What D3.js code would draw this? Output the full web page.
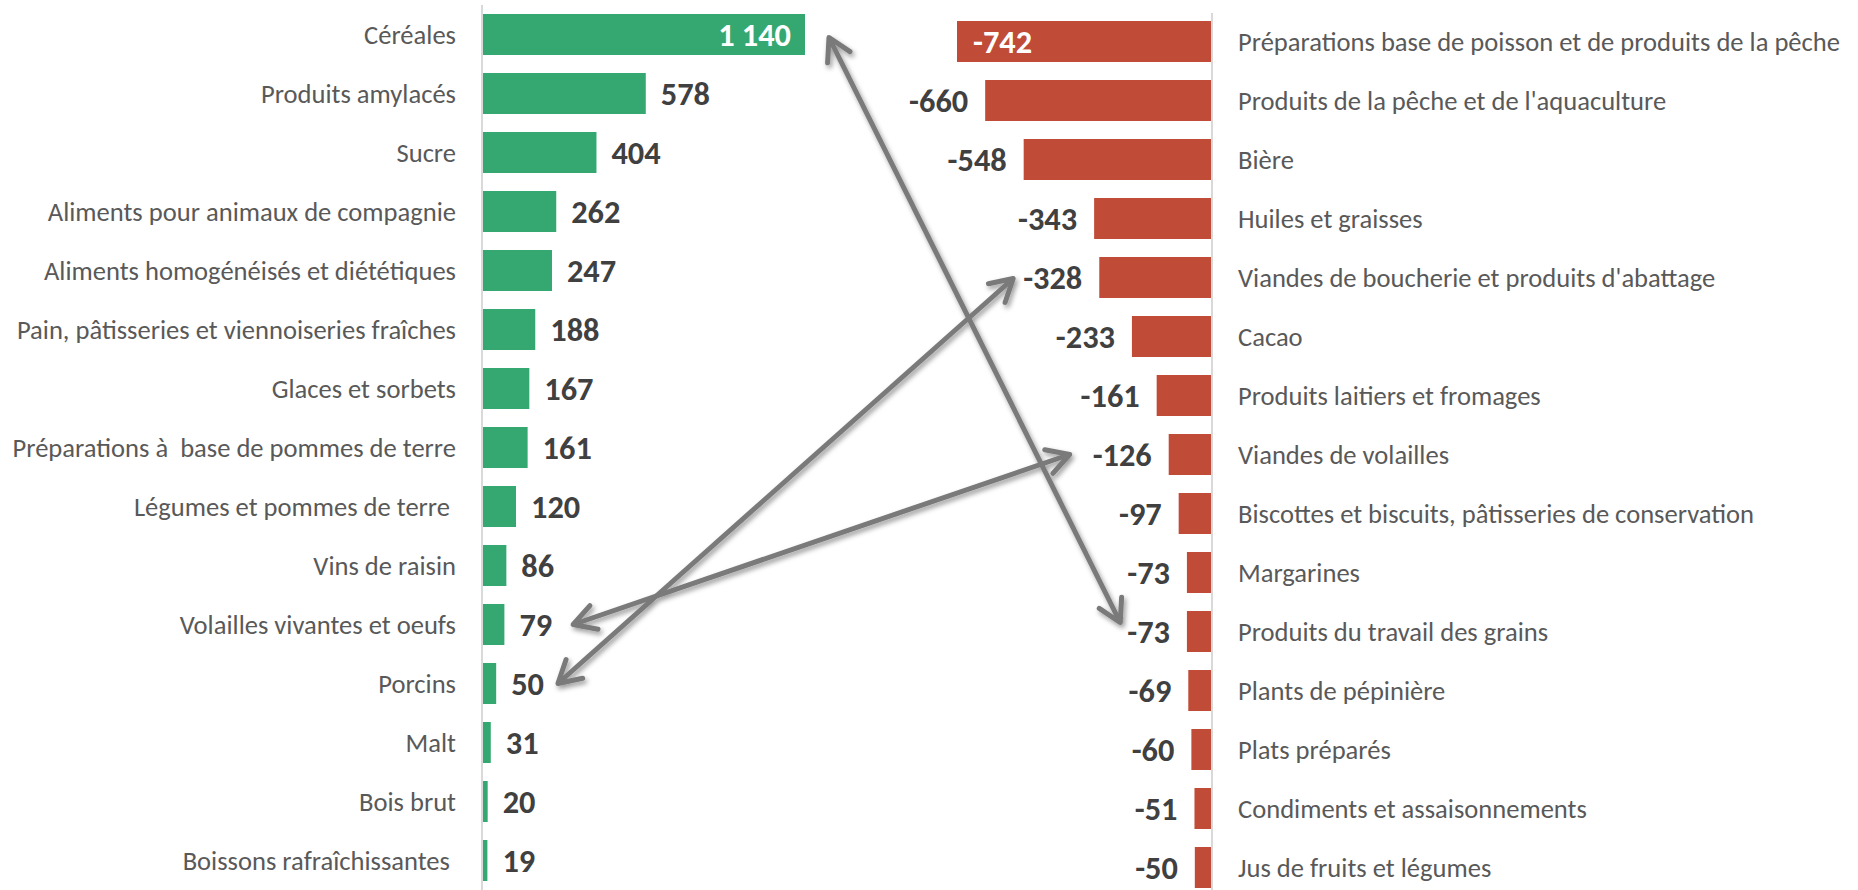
<!DOCTYPE html>
<html>
<head>
<meta charset="utf-8">
<script src="https://cdn.jsdelivr.net/npm/d3@7"></script>
<style>
    body { margin: 0; background: #ffffff; }
    text { white-space: pre; }
</style>
</head>
<body>
<div id="chart"></div>
<script>
// Excédents (gauche) et déficits (droite)
const leftCats = [
    "Céréales", "Produits amylacés", "Sucre", "Aliments pour animaux de compagnie",
    "Aliments homogénéisés et diététiques", "Pain, pâtisseries et viennoiseries fraîches",
    "Glaces et sorbets", "Préparations à  base de pommes de terre", "Légumes et pommes de terre ",
    "Vins de raisin", "Volailles vivantes et oeufs", "Porcins", "Malt", "Bois brut",
    "Boissons rafraîchissantes "
];
const leftVals = [1140, 578, 404, 262, 247, 188, 167, 161, 120, 86, 79, 50, 31, 20, 19];

const rightCats = [
    "Préparations base de poisson et de produits de la pêche",
    "Produits de la pêche et de l'aquaculture", "Bière", "Huiles et graisses",
    "Viandes de boucherie et produits d'abattage", "Cacao", "Produits laitiers et fromages",
    "Viandes de volailles", "Biscottes et biscuits, pâtisseries de conservation", "Margarines",
    "Produits du travail des grains", "Plants de pépinière", "Plats préparés",
    "Condiments et assaisonnements", "Jus de fruits et légumes"
];
const rightVals = [-742, -660, -548, -343, -328, -233, -161, -126, -97, -73, -73, -69, -60, -51, -50];

// Flèches reliant un excédent à un déficit
const arrows = [
    { left: "Céréales", right: "Produits du travail des grains", padL: 24, dyL: 3, padR: 7, dyR: -9 },
    { left: "Porcins", right: "Viandes de boucherie et produits d'abattage", padL: 14, dyL: 0, padR: 10, dyR: 1 },
    { left: "Volailles vivantes et oeufs", right: "Viandes de volailles", padL: 21, dyL: 0, padR: 23, dyR: 0 }
];

const width = 1858, height = 890;
const green = "#34a870", red = "#c04b37";
const arrowColor = "#7a7a7a";
const fontFamily = "Carlito, Calibri, Lato, sans-serif";
let catSize = 26.7, valSize = 32.5;

const svg = d3.select("#chart").append("svg")
    .attr("width", width)
    .attr("height", height)
    .style("font-family", fontFamily);

// Ajuste la taille de police pour retrouver la largeur des libellés d'origine
const probe = svg.append("text").attr("font-size", catSize).text("Aliments homogénéisés et diététiques");
const fit = 412 / probe.node().getComputedTextLength();
probe.remove();
catSize *= fit;
valSize *= fit;

const step = 59, pad = 18 / 59;
const yLeft = d3.scaleBand().domain(leftCats)
    .range([-4, -4 + step * (leftCats.length + pad)])
    .paddingInner(pad).paddingOuter(pad);
const yRight = d3.scaleBand().domain(rightCats)
    .range([3, 3 + step * (rightCats.length + pad)])
    .paddingInner(pad).paddingOuter(pad);

const xLeft = d3.scaleLinear().domain([0, d3.max(leftVals)]).range([482, 805]);
const xRight = d3.scaleLinear().domain([d3.min(rightVals), 0]).range([957, 1212]);

const left = leftCats.map((c, i) => ({ cat: c, val: leftVals[i] }));
const right = rightCats.map((c, i) => ({ cat: c, val: rightVals[i] }));

// Axes verticaux
svg.append("line")
    .attr("x1", xLeft(0)).attr("x2", xLeft(0))
    .attr("y1", 5).attr("y2", height)
    .attr("stroke", "#d9d9d9").attr("stroke-width", 2);
svg.append("line")
    .attr("x1", xRight(0)).attr("x2", xRight(0))
    .attr("y1", 13).attr("y2", height)
    .attr("stroke", "#d9d9d9").attr("stroke-width", 2);

// Barres gauche
svg.append("g").selectAll("rect").data(left).join("rect")
    .attr("x", xLeft(0) + 1)
    .attr("y", d => yLeft(d.cat))
    .attr("width", d => xLeft(d.val) - xLeft(0) - 1)
    .attr("height", yLeft.bandwidth())
    .attr("fill", green);

// Barres droite
svg.append("g").selectAll("rect").data(right).join("rect")
    .attr("x", d => xRight(d.val))
    .attr("y", d => yRight(d.cat))
    .attr("width", d => xRight(0) - xRight(d.val) - 1)
    .attr("height", yRight.bandwidth())
    .attr("fill", red);

// Libellés catégories
svg.append("g").selectAll("text").data(left).join("text")
    .attr("x", xLeft(0) - 26)
    .attr("y", d => yLeft(d.cat) + yLeft.bandwidth() / 2)
    .attr("dy", "0.35em")
    .attr("text-anchor", "end")
    .attr("font-size", catSize)
    .attr("fill", "#595959")
    .text(d => d.cat);

svg.append("g").selectAll("text").data(right).join("text")
    .attr("x", xRight(0) + 26)
    .attr("y", d => yRight(d.cat) + yRight.bandwidth() / 2)
    .attr("dy", "0.35em")
    .attr("font-size", catSize)
    .attr("fill", "#595959")
    .text(d => d.cat);

// Valeurs
const fmt = v => d3.format(",")(v).replace(/,/g, " ").replace("−", "-");
const leftMax = d3.max(leftVals), rightMin = d3.min(rightVals);

const leftLabels = svg.append("g").selectAll("text").data(left).join("text")
    .attr("x", d => d.val === leftMax ? xLeft(d.val) - 14 : xLeft(d.val) + 15)
    .attr("y", d => yLeft(d.cat) + yLeft.bandwidth() / 2)
    .attr("dy", "0.35em")
    .attr("text-anchor", d => d.val === leftMax ? "end" : "start")
    .attr("font-size", valSize)
    .attr("font-weight", "bold")
    .attr("fill", d => d.val === leftMax ? "#ffffff" : "#404040")
    .text(d => fmt(d.val));

const rightLabels = svg.append("g").selectAll("text").data(right).join("text")
    .attr("x", d => d.val === rightMin ? xRight(d.val) + 16 : xRight(d.val) - 17)
    .attr("y", d => yRight(d.cat) + yRight.bandwidth() / 2)
    .attr("dy", "0.35em")
    .attr("text-anchor", d => d.val === rightMin ? "start" : "end")
    .attr("font-size", valSize)
    .attr("font-weight", "bold")
    .attr("fill", d => d.val === rightMin ? "#ffffff" : "#404040")
    .text(d => fmt(d.val));

// Flèches
const defs = svg.append("defs");
const shadow = defs.append("filter").attr("id", "shadow")
    .attr("filterUnits", "userSpaceOnUse")
    .attr("x", 0).attr("y", 0).attr("width", width).attr("height", height);
shadow.append("feDropShadow")
    .attr("dx", 2).attr("dy", 3).attr("stdDeviation", 2.5)
    .attr("flood-color", "#000").attr("flood-opacity", 0.4);

defs.append("marker")
    .attr("id", "head")
    .attr("viewBox", "0 0 30 32")
    .attr("refX", 26).attr("refY", 16)
    .attr("markerWidth", 30).attr("markerHeight", 32)
    .attr("markerUnits", "userSpaceOnUse")
    .attr("orient", "auto-start-reverse")
    .append("path")
    .attr("d", "M4,3.5 L26,16 L4,28.5")
    .attr("fill", "none")
    .attr("stroke", arrowColor)
    .attr("stroke-width", 5)
    .attr("stroke-linecap", "round")
    .attr("stroke-linejoin", "round");

const leftNodes = new Map(leftLabels.nodes().map((n, i) => [leftCats[i], n]));
const rightNodes = new Map(rightLabels.nodes().map((n, i) => [rightCats[i], n]));

const arrowG = svg.append("g").attr("filter", "url(#shadow)");
arrows.forEach(a => {
    const lv = leftVals[leftCats.indexOf(a.left)];
    const rv = rightVals[rightCats.indexOf(a.right)];
    const lb = leftNodes.get(a.left).getBBox();
    const rb = rightNodes.get(a.right).getBBox();
    const x1 = Math.max(xLeft(lv), lb.x + lb.width) + a.padL;
    const y1 = yLeft(a.left) + yLeft.bandwidth() / 2 + a.dyL;
    const x2 = Math.min(xRight(rv), rb.x) - a.padR;
    const y2 = yRight(a.right) + yRight.bandwidth() / 2 + a.dyR;
    arrowG.append("line")
        .attr("x1", x1).attr("y1", y1)
        .attr("x2", x2).attr("y2", y2)
        .attr("stroke", arrowColor)
        .attr("stroke-width", 5)
        .attr("marker-start", "url(#head)")
        .attr("marker-end", "url(#head)");
});
</script>
</body>
</html>
